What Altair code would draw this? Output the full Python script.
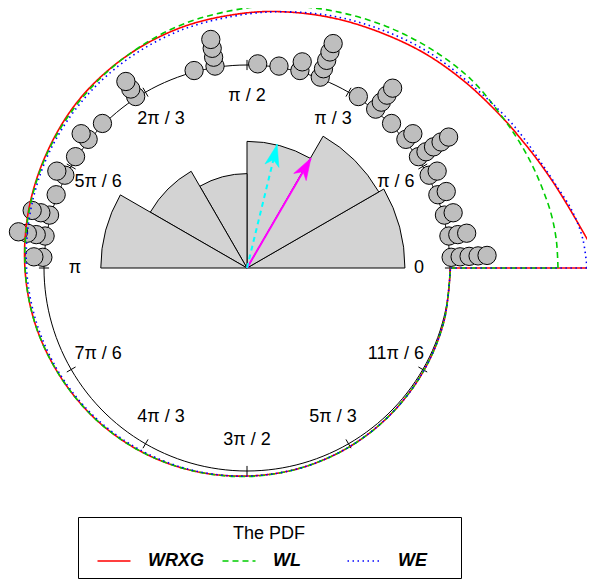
import altair as alt
import pandas as pd

# ---------------- data ----------------
# stacked observations: bin-centre angle (degrees) and number of points in the stack
OBS_DEG = [3, 9, 15, 21, 27, 33, 39, 45, 51, 57, 69, 75, 81, 87,
           99, 105, 123, 135, 141, 147, 153, 159, 165, 171, 177]
OBS_CNT = [5, 3, 2, 2, 2, 5, 2, 1, 4, 1, 5, 2, 1, 1,
           4, 1, 3, 1, 2, 1, 2, 1, 3, 4, 2]

TICK_DEG = [0, 30, 60, 90, 120, 150, 180, 210, 240, 270, 300, 330]
TICK_LAB = ["0", "π / 6", "π / 3", "π / 2", "2π / 3", "5π / 6", "π",
            "7π / 6", "4π / 3", "3π / 2", "5π / 3", "11π / 6"]

ARROW_NAME = ["a1", "a2"]
ARROW_DEG = [59.8, 76.3]
ARROW_RHO = [0.626, 0.626]

SERIES = ["WRXG", "WL", "WE"]
DENS_DEG = [0, 5, 10, 15, 20, 25, 30, 40, 50, 60, 70, 80, 90, 105, 120, 135,
            150, 165, 180, 195, 210, 225, 240, 255, 270, 285, 300, 315, 330, 345, 360]
# plotted density (radial excess beyond the unit circle)
WRXG = [0.760, 0.680, 0.620, 0.572, 0.530, 0.493, 0.463, 0.414, 0.374, 0.335, 0.305,
        0.279, 0.257, 0.229, 0.200, 0.171, 0.138, 0.113, 0.094, 0.079, 0.064, 0.054,
        0.044, 0.034, 0.025, 0.020, 0.015, 0.010, 0.007, 0.005, 0.002]
WL = [0.532, 0.530, 0.522, 0.507, 0.493, 0.478, 0.463, 0.443, 0.409, 0.374, 0.340,
      0.310, 0.281, 0.241, 0.200, 0.165, 0.135, 0.110, 0.093, 0.079, 0.064, 0.054,
      0.044, 0.034, 0.027, 0.020, 0.015, 0.010, 0.007, 0.005, 0.002]
WE = [0.675, 0.660, 0.626, 0.576, 0.537, 0.507, 0.478, 0.424, 0.389, 0.350, 0.315,
      0.281, 0.251, 0.217, 0.185, 0.155, 0.128, 0.103, 0.086, 0.071, 0.059, 0.049,
      0.039, 0.032, 0.025, 0.020, 0.015, 0.010, 0.007, 0.005, 0.002]

# ---------------- layout / style ----------------
W, H = 579, 572
CX, CY, RPX = 239.0, 260.0, 203.0      # circle centre and radius (px, plot area)
FONT = "Liberation Sans"
ROSE_MAX = 0.778                       # rose radius of the largest bin (circle units)
STACK0, STACKSTEP = 1.007, 0.0443
TK = 0.025
LABR = 0.847
COLORS = ["#FF0000", "#00CD00", "#0000FF"]
DASHES = [[1, 0], [6, 4], [1.5, 3.5]]
ARROW_COLORS = ["#FF00FF", "#00FFFF"]
ARROW_DASH = [[1, 0], [5, 4]]
ARROW_PATH = "M0,0 L0.33,1 L0,0.72 L-0.33,1 Z"
LEGEND_LINE = "M-3,0 L3,0"
PAD_TAIL = "\u2800" * 2   # blank glyphs widening the last legend column

xs = alt.Scale(domain=[-CX / RPX, (W - CX) / RPX], nice=False, zero=False)
ys = alt.Scale(domain=[-(H - CY) / RPX, CY / RPX], nice=False, zero=False)


def X(f):
    return alt.X(f, type="quantitative", scale=xs, axis=None)


def Y(f):
    return alt.Y(f, type="quantitative", scale=ys, axis=None)


RAD = "PI/180"

# ---------------- tables ----------------
obs_df = pd.DataFrame({"ang": [a for a, c in zip(OBS_DEG, OBS_CNT) for _ in range(c)]})
nmax = int(obs_df.groupby(obs_df["ang"] // 30).size().max())
tick_df = pd.DataFrame({"a": TICK_DEG, "lab": TICK_LAB})
arr_df = pd.DataFrame({"name": ARROW_NAME, "deg": ARROW_DEG, "rho": ARROW_RHO})

rows = []
for name, exc in zip(SERIES, [WRXG, WL, WE]):
    for i, (a, e) in enumerate(zip(DENS_DEG, exc)):
        rows.append(dict(series=name, seg=name + "_c", i=i, a=a, e=e))
    rows.append(dict(series=name, seg=name + "_j", i=0, a=DENS_DEG[-1], e=exc[-1]))
    rows.append(dict(series=name, seg=name + "_j", i=1, a=DENS_DEG[0], e=exc[0]))
dens_df = pd.DataFrame(rows)

# ---------------- layers ----------------
rose = alt.Chart(obs_df).transform_calculate(
    b="floor(datum.ang/30)"
).transform_aggregate(
    n="count()", groupby=["b"]
).transform_calculate(
    t1="PI/2 - (datum.b+1)*PI/6", t2="PI/2 - datum.b*PI/6", x0="0", y0="0"
).mark_arc(fill="#D3D3D3", stroke="black", strokeWidth=1).encode(
    x=X("x0"), y=Y("y0"),
    theta=alt.Theta("t1:Q", scale=None, stack=None),
    theta2="t2:Q",
    radius=alt.Radius("n:Q", scale=alt.Scale(type="sqrt", domain=[0, nmax],
                                             range=[0, ROSE_MAX * RPX])),
)

arrow_layers = []
for k, nm in enumerate(ARROW_NAME):
    base = alt.Chart(arr_df).transform_filter(alt.datum.name == nm).transform_calculate(
        x0="0", y0="0",
        x1=f"datum.rho*cos(datum.deg*{RAD})", y1=f"datum.rho*sin(datum.deg*{RAD})",
        rot="90 - datum.deg",
    )
    arrow_layers.append(base.mark_rule(color=ARROW_COLORS[k], strokeWidth=2,
                                       strokeDash=ARROW_DASH[k]).encode(
        x=X("x0"), y=Y("y0"), x2="x1:Q", y2="y1:Q"))
    arrow_layers.append(base.mark_point(shape=ARROW_PATH, filled=True, fill=ARROW_COLORS[k],
                                        stroke=ARROW_COLORS[k], strokeWidth=0.5,
                                        opacity=1, size=1900).encode(
        x=X("x1"), y=Y("y1"), angle=alt.Angle("rot:Q", scale=None)))

circle = alt.Chart(alt.sequence(0, 362, 2, as_="a")).transform_calculate(
    x=f"cos(datum.a*{RAD})", y=f"sin(datum.a*{RAD})"
).mark_line(color="black", strokeWidth=1).encode(x=X("x"), y=Y("y"), order="a:Q")

ticks = alt.Chart(tick_df).transform_calculate(
    x1=f"{1 - TK}*cos(datum.a*{RAD})", y1=f"{1 - TK}*sin(datum.a*{RAD})",
    x2=f"{1 + TK}*cos(datum.a*{RAD})", y2=f"{1 + TK}*sin(datum.a*{RAD})",
).mark_rule(color="black", strokeWidth=1).encode(
    x=X("x1"), y=Y("y1"), x2="x2:Q", y2="y2:Q")

labels = alt.Chart(tick_df).transform_calculate(
    x=f"{LABR}*cos(datum.a*{RAD})", y=f"{LABR}*sin(datum.a*{RAD})"
).mark_text(font=FONT, fontSize=18, align="center", baseline="middle",
            color="black").encode(x=X("x"), y=Y("y"), text="lab:N")

points = alt.Chart(obs_df).transform_window(
    k="row_number()", groupby=["ang"]
).transform_calculate(
    r=f"{STACK0} + {STACKSTEP}*(datum.k-1)",
    x=f"datum.r*cos(datum.ang*{RAD})", y=f"datum.r*sin(datum.ang*{RAD})",
).mark_circle(size=335, fill="#BEBEBE", stroke="black", strokeWidth=1,
              opacity=1, fillOpacity=1).encode(x=X("x"), y=Y("y"), order="k:Q")

leg = dict(title="The PDF", orient="none", legendX=70, legendY=509,
           direction="horizontal", columns=3, gridAlign="all",
           symbolType=LEGEND_LINE, symbolSize=121, symbolStrokeWidth=1.5,
           symbolFillColor="transparent",
           symbolOffset=19, labelOffset=25, columnPadding=7, padding=8,
           strokeColor="black", titleFont=FONT, titleFontSize=18,
           titleFontWeight="normal", titleAnchor="middle", titleAlign="center",
           titlePadding=9, titleColor="black", labelFont=FONT, labelFontSize=18,
           labelFontWeight="bold", labelFontStyle="italic", labelColor="black",
           labelExpr=f"datum.label == 'WE' ? 'WE{PAD_TAIL}' : datum.label")

dens = alt.Chart(dens_df).transform_calculate(
    x=f"(1+datum.e)*cos(datum.a*{RAD})", y=f"(1+datum.e)*sin(datum.a*{RAD})"
).mark_line(interpolate="catmull-rom", clip=True, strokeWidth=1.6).encode(
    x=X("x"), y=Y("y"), detail="seg:N", order="i:Q",
    color=alt.Color("series:N", scale=alt.Scale(domain=SERIES, range=COLORS),
                    legend=alt.Legend(**leg)),
    strokeDash=alt.StrokeDash("series:N", scale=alt.Scale(domain=SERIES, range=DASHES),
                              legend=alt.Legend(**leg)),
)

chart = alt.layer(rose, *arrow_layers, circle, ticks, labels, points, dens).properties(
    width=W, height=H, padding=0, autosize=alt.AutoSizeParams(type="none"),
    background="white",
).configure_view(stroke=None)

chart.save("out.html", embed_options={"renderer": "svg", "actions": False})
